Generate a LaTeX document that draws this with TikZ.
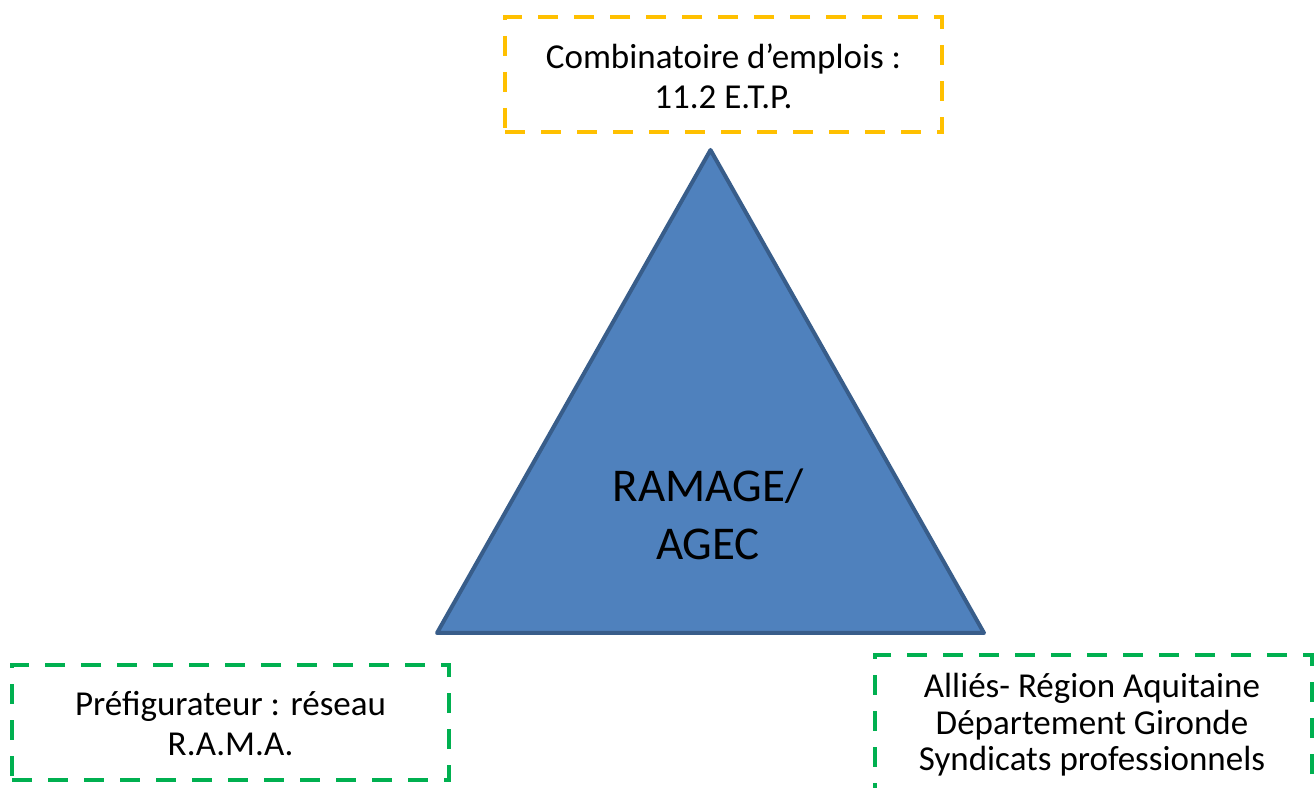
\documentclass[tikz,border=0pt]{standalone}
\usepackage{fontspec}
\setmainfont{Carlito}
\definecolor{boxyellow}{HTML}{FFC000}
\definecolor{boxgreen}{HTML}{00B050}
\definecolor{trifill}{HTML}{4F81BD}
\definecolor{triline}{HTML}{385D8A}
\begin{document}
\begin{tikzpicture}[x=1pt,y=1pt,
  dashbox/.style={draw, line width=4pt, dash pattern=on 20pt off 16pt, minimum width=437pt, inner sep=0pt},
  boxtext/.style={align=center, font=\fontsize{35}{40}\selectfont, text=black},
]
\useasboundingbox (0,0) rectangle (1316,787);
% triangle
\draw[fill=trifill, draw=triline, line width=4pt, line join=round] (710.5,637) -- (437,154) -- (984,154) -- cycle;
\node[align=center, font=\fontsize{47}{58}\selectfont] (ramage) at (708,273) {RAMAGE/\\AGEC};
% top box
\node[dashbox, draw=boxyellow, minimum height=115pt] (combi) at (723.5,712.5) {};
\node[boxtext] (combitext) at ([yshift=-2pt]combi.center) {Combinatoire d’emplois :\\11.2 E.T.P.};
% left box
\node[dashbox, draw=boxgreen, minimum height=115pt] (prefig) at (230.5,64.5) {};
\node[boxtext] (prefigtext) at ([yshift=-1pt]prefig.center) {Préfigurateur : réseau\\R.A.M.A.};
% right box
\node[dashbox, draw=boxgreen, minimum height=150pt] (allies) at (1093.5,57) {};
\node[boxtext, font=\fontsize{35}{36.5}\selectfont] (alliestext) at (1092,62) {Alliés- Région Aquitaine\\Département Gironde\\Syndicats professionnels};
\end{tikzpicture}
\end{document}
